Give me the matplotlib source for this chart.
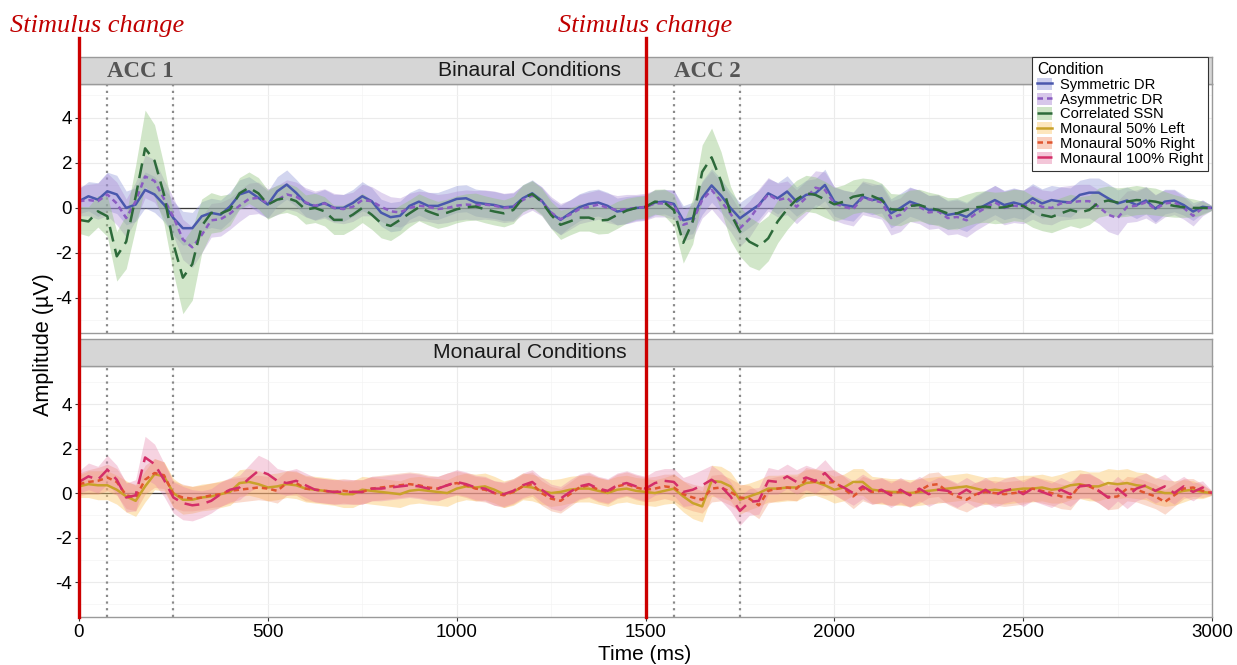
import numpy as np
import matplotlib
matplotlib.use("Agg")
import matplotlib.pyplot as plt
from matplotlib.lines import Line2D
from matplotlib.patches import Patch
from matplotlib.transforms import blended_transform_factory
from matplotlib.ticker import MultipleLocator

plt.rcParams['font.family'] = ['Liberation Sans', 'DejaVu Sans']
plt.rcParams['axes.unicode_minus'] = False

# ---------------- data ----------------
time_ms = np.arange(0, 3001, 25)

symmetric_dr = [
    0.3, 0.52, 0.37, 0.74, 0.6, 0.0, 0.15, 0.8, 0.6, 0.15,
    -0.45, -0.9, -0.9, -0.37, -0.22, -0.3, 0.07, 0.6, 0.74, 0.45,
    0.15, 0.74, 1.04, 0.67, 0.22, 0.07, 0.22, 0.0, 0.0, 0.22,
    0.52, 0.3, -0.21, -0.41, -0.35, 0.09, 0.28, 0.09, 0.09, 0.24,
    0.4, 0.43, 0.24, 0.18, 0.13, 0.03, 0.06, 0.43, 0.65, 0.33,
    -0.24, -0.53, -0.24, 0.03, 0.18, 0.24, 0.09, -0.16, -0.09, 0.0,
    0.03, 0.24, 0.28, 0.18, -0.55, -0.45, 0.45, 1.0, 0.55, 0.0,
    -0.46, -0.16, 0.13, 0.65, 0.43, 0.73, 0.28, 0.58, 0.65, 1.02,
    0.28, 0.13, 0.06, 0.5, 0.35, 0.43, -0.24, 0.0, 0.28, 0.13,
    -0.09, -0.09, -0.31, -0.24, -0.4, -0.09, 0.13, 0.35, 0.13, 0.24,
    0.13, 0.43, 0.2, 0.35, 0.28, 0.24, 0.58, 0.68, 0.68, 0.43,
    0.2, 0.33, 0.13, 0.33, -0.03, 0.28, 0.33, 0.13, -0.16, 0.05,
    0.0]
asymmetric_dr = [
    0.3, 0.35, 0.3, 0.6, 0.2, -0.45, 0.3, 1.4, 1.2, 0.4,
    -0.4, -1.4, -1.75, -1.2, -0.55, -0.5, -0.25, 0.1, 0.4, 0.45,
    0.2, 0.35, 0.6, 0.5, 0.25, 0.1, 0.2, 0.0, -0.05, 0.05,
    0.35, 0.3, 0.05, -0.15, -0.2, 0.0, 0.1, 0.05, -0.05, 0.0,
    0.1, 0.15, 0.12, 0.15, 0.1, 0.0, 0.05, 0.35, 0.55, 0.3,
    -0.2, -0.5, -0.3, -0.05, 0.05, 0.15, 0.0, -0.1, -0.05, 0.0,
    0.05, 0.2, 0.2, 0.15, -0.75, -0.6, 0.35, 0.8, 0.3, -0.25,
    -0.9, -0.5, 0.1, 0.6, 0.35, 0.45, 0.05, 0.45, 0.9, 0.8,
    0.2, 0.05, -0.05, 0.45, 0.35, 0.25, -0.45, -0.3, 0.15, 0.05,
    -0.2, -0.15, -0.45, -0.4, -0.55, -0.25, 0.0, 0.25, 0.0, 0.1,
    0.05, 0.25, 0.05, 0.0, 0.2, 0.25, 0.3, 0.3, 0.05, -0.3,
    -0.45, 0.05, 0.1, 0.25, -0.05, 0.2, 0.25, 0.0, -0.35, 0.0,
    0.0]
correlated_ssn = [
    -0.53, -0.6, -0.15, -0.37, -2.15, -1.5, 0.5, 2.65, 2.1, 0.6,
    -1.6, -3.1, -2.5, -0.8, -0.22, -0.25, -0.07, 0.65, 0.9, 0.65,
    0.15, 0.37, 0.45, 0.3, -0.07, 0.0, -0.15, -0.53, -0.53, -0.3,
    0.0, -0.3, -0.68, -0.8, -0.53, -0.24, 0.03, -0.16, -0.31, -0.21,
    -0.06, 0.03, 0.06, -0.06, -0.16, -0.24, -0.09, 0.43, 0.62, 0.28,
    -0.31, -0.75, -0.6, -0.43, -0.43, -0.56, -0.53, -0.31, -0.12, 0.0,
    0.05, 0.28, 0.24, -0.09, -1.55, -0.6, 1.6, 2.25, 1.2, -0.24,
    -1.05, -1.5, -1.72, -1.35, -0.6, -0.06, 0.38, 0.65, 0.58, 0.38,
    0.16, 0.28, 0.5, 0.58, 0.53, 0.35, -0.06, -0.09, 0.09, 0.13,
    0.0, -0.09, -0.24, -0.24, -0.09, 0.03, 0.06, 0.0, 0.03, 0.13,
    0.09, -0.16, -0.31, -0.4, -0.24, -0.09, -0.2, -0.09, 0.24, 0.33,
    0.24, 0.28, 0.35, 0.33, 0.28, 0.18, 0.09, 0.03, 0.0, 0.0,
    0.0]
monaural_50_left = [
    0.3, 0.4, 0.35, 0.35, 0.15, -0.15, -0.35, 0.3, 0.85, 0.75,
    0.0, -0.3, -0.3, -0.2, -0.15, -0.05, 0.05, 0.45, 0.5, 0.4,
    0.25, 0.3, 0.4, 0.35, 0.2, 0.15, 0.1, 0.05, -0.05, -0.05,
    0.15, 0.1, 0.05, 0.0, -0.05, 0.1, 0.15, 0.1, 0.05, 0.0,
    0.2, 0.3, 0.25, 0.3, 0.15, -0.05, 0.05, 0.3, 0.25, 0.1,
    0.0, 0.05, 0.15, 0.2, 0.2, 0.1, 0.0, 0.15, 0.2, 0.1,
    0.05, 0.0, 0.1, 0.2, -0.15, -0.45, -0.6, 0.55, 0.5, 0.3,
    -0.3, -0.15, 0.0, 0.2, 0.2, 0.25, 0.25, 0.45, 0.5, 0.35,
    0.15, 0.25, 0.5, 0.5, 0.15, 0.1, 0.05, 0.05, 0.0, 0.05,
    0.1, 0.15, 0.2, 0.25, 0.3, 0.2, 0.1, 0.15, 0.1, 0.15,
    0.2, 0.2, 0.25, 0.15, 0.2, 0.35, 0.4, 0.3, 0.3, 0.45,
    0.4, 0.45, 0.35, 0.3, 0.1, 0.0, 0.0, 0.1, 0.15, 0.05,
    0.0]
monaural_50_right = [
    0.4, 0.5, 0.55, 0.7, 0.5, -0.1, -0.2, 0.6, 0.9, 0.8,
    -0.05, -0.2, -0.25, -0.2, -0.1, -0.05, 0.1, 0.15, 0.2, 0.25,
    0.2, 0.1, 0.45, 0.45, 0.2, 0.15, 0.1, 0.05, 0.1, 0.05,
    0.05, 0.2, 0.25, 0.3, 0.35, 0.4, 0.35, 0.25, 0.2, 0.35,
    0.45, 0.35, 0.2, 0.15, 0.0, -0.1, 0.05, 0.3, 0.4, 0.0,
    -0.25, -0.35, -0.05, 0.25, 0.35, 0.15, 0.05, 0.3, 0.4, 0.25,
    0.15, 0.2, 0.3, 0.25, -0.05, -0.2, -0.3, 0.2, 0.25, 0.05,
    -0.2, -0.25, -0.55, 0.1, 0.2, 0.25, 0.2, 0.6, 0.5, 0.45,
    0.5, 0.2, -0.15, 0.2, 0.05, 0.1, 0.0, 0.05, -0.05, 0.1,
    0.35, 0.4, 0.05, -0.15, -0.3, -0.05, 0.05, 0.0, -0.05, 0.0,
    0.05, 0.2, 0.1, 0.0, -0.15, -0.2, 0.35, 0.3, 0.1, -0.2,
    -0.15, 0.2, 0.15, 0.0, -0.15, -0.4, -0.1, 0.2, 0.25, 0.1,
    0.0]
monaural_100_right = [
    0.5, 0.75, 0.6, 1.05, 0.6, -0.2, -0.1, 1.6, 1.3, 0.6,
    -0.2, -0.45, -0.55, -0.5, -0.35, -0.05, 0.15, 0.25, 0.65, 1.0,
    0.85, 0.55, 0.45, 0.55, 0.35, 0.15, 0.1, 0.05, 0.05, 0.05,
    0.05, 0.2, 0.2, 0.25, 0.3, 0.35, 0.3, 0.2, 0.2, 0.35,
    0.5, 0.4, 0.25, 0.2, 0.0, -0.05, 0.1, 0.35, 0.5, 0.15,
    -0.15, -0.25, 0.05, 0.3, 0.4, 0.2, 0.1, 0.35, 0.45, 0.3,
    0.2, 0.45, 0.55, 0.5, 0.05, 0.15, 0.35, 0.6, 0.3, -0.15,
    -0.8, -0.4, -0.35, 0.55, 0.5, 0.75, 0.5, 0.7, 0.55, 0.9,
    0.45, 0.25, 0.0, 0.3, 0.05, 0.15, -0.1, 0.15, -0.1, 0.2,
    -0.05, 0.15, 0.1, -0.1, 0.15, -0.1, 0.15, -0.1, 0.1, 0.2,
    -0.05, 0.2, 0.05, -0.1, 0.15, -0.05, 0.3, 0.35, 0.1, -0.2,
    0.2, -0.15, 0.2, 0.35, 0.1, 0.3, 0.0, 0.3, 0.05, 0.25,
    0.0]

# half-widths of the confidence ribbons
symmetric_dr_ci = [
    0.55, 0.65, 0.75, 0.85, 0.85, 0.75, 0.75, 0.8, 0.8, 0.75,
    0.75, 0.75, 0.7, 0.65, 0.65, 0.65, 0.65, 0.65, 0.65, 0.65,
    0.6, 0.65, 0.65, 0.6, 0.6, 0.6, 0.6, 0.6, 0.6, 0.6,
    0.65, 0.6, 0.6, 0.65, 0.65, 0.6, 0.6, 0.6, 0.6, 0.6,
    0.6, 0.6, 0.6, 0.6, 0.6, 0.6, 0.6, 0.6, 0.6, 0.6,
    0.65, 0.65, 0.6, 0.6, 0.6, 0.6, 0.6, 0.6, 0.6, 0.55,
    0.55, 0.55, 0.55, 0.6, 0.65, 0.7, 0.75, 0.75, 0.75, 0.7,
    0.7, 0.7, 0.65, 0.65, 0.7, 0.7, 0.65, 0.65, 0.65, 0.7,
    0.65, 0.65, 0.65, 0.65, 0.65, 0.65, 0.65, 0.65, 0.65, 0.65,
    0.65, 0.65, 0.65, 0.65, 0.65, 0.65, 0.65, 0.65, 0.65, 0.65,
    0.65, 0.65, 0.65, 0.65, 0.65, 0.65, 0.65, 0.65, 0.65, 0.65,
    0.6, 0.6, 0.6, 0.6, 0.6, 0.55, 0.5, 0.45, 0.4, 0.3,
    0.1]
asymmetric_dr_ci = [
    0.65, 0.7, 0.8, 0.95, 0.95, 0.85, 0.85, 0.95, 0.95, 0.85,
    0.85, 0.9, 0.9, 0.8, 0.75, 0.75, 0.7, 0.7, 0.7, 0.7,
    0.65, 0.65, 0.65, 0.65, 0.65, 0.65, 0.65, 0.65, 0.65, 0.65,
    0.7, 0.65, 0.65, 0.65, 0.65, 0.65, 0.65, 0.65, 0.65, 0.65,
    0.65, 0.65, 0.65, 0.65, 0.65, 0.65, 0.65, 0.65, 0.65, 0.65,
    0.7, 0.7, 0.65, 0.65, 0.65, 0.65, 0.65, 0.65, 0.65, 0.6,
    0.6, 0.6, 0.6, 0.65, 0.7, 0.75, 0.8, 0.85, 0.85, 0.8,
    0.8, 0.8, 0.75, 0.75, 0.75, 0.75, 0.75, 0.75, 0.75, 0.8,
    0.75, 0.75, 0.75, 0.75, 0.75, 0.75, 0.75, 0.75, 0.75, 0.75,
    0.75, 0.75, 0.75, 0.75, 0.75, 0.75, 0.75, 0.75, 0.75, 0.75,
    0.75, 0.75, 0.75, 0.75, 0.75, 0.75, 0.75, 0.75, 0.75, 0.75,
    0.75, 0.7, 0.7, 0.7, 0.65, 0.6, 0.55, 0.5, 0.45, 0.35,
    0.1]
correlated_ssn_ci = [
    0.6, 0.65, 0.7, 0.9, 1.1, 1.2, 1.4, 1.7, 1.6, 1.3,
    1.3, 1.6, 1.6, 1.2, 0.9, 0.8, 0.7, 0.7, 0.7, 0.7,
    0.65, 0.65, 0.65, 0.65, 0.65, 0.65, 0.65, 0.65, 0.65, 0.65,
    0.65, 0.65, 0.65, 0.65, 0.65, 0.6, 0.6, 0.6, 0.6, 0.6,
    0.6, 0.6, 0.6, 0.6, 0.6, 0.6, 0.6, 0.6, 0.6, 0.6,
    0.6, 0.65, 0.6, 0.6, 0.6, 0.6, 0.6, 0.6, 0.55, 0.5,
    0.5, 0.55, 0.6, 0.7, 0.9, 1.0, 1.2, 1.3, 1.3, 1.2,
    1.1, 1.1, 1.05, 1.0, 0.95, 0.9, 0.85, 0.8, 0.8, 0.8,
    0.75, 0.75, 0.75, 0.75, 0.75, 0.75, 0.7, 0.7, 0.7, 0.7,
    0.7, 0.7, 0.7, 0.7, 0.7, 0.7, 0.7, 0.7, 0.7, 0.7,
    0.7, 0.7, 0.7, 0.7, 0.7, 0.7, 0.7, 0.65, 0.65, 0.65,
    0.65, 0.65, 0.65, 0.6, 0.6, 0.55, 0.5, 0.45, 0.4, 0.3,
    0.1]
monaural_50_left_ci = [
    0.5, 0.6, 0.65, 0.65, 0.65, 0.7, 0.7, 0.7, 0.7, 0.65,
    0.65, 0.65, 0.6, 0.6, 0.6, 0.6, 0.6, 0.6, 0.6, 0.6,
    0.6, 0.6, 0.6, 0.6, 0.6, 0.6, 0.6, 0.6, 0.6, 0.6,
    0.6, 0.6, 0.6, 0.6, 0.6, 0.6, 0.6, 0.6, 0.6, 0.6,
    0.6, 0.6, 0.6, 0.6, 0.6, 0.6, 0.6, 0.6, 0.6, 0.6,
    0.6, 0.6, 0.6, 0.6, 0.6, 0.6, 0.6, 0.6, 0.6, 0.6,
    0.6, 0.6, 0.6, 0.65, 0.7, 0.7, 0.7, 0.7, 0.7, 0.65,
    0.65, 0.6, 0.6, 0.6, 0.6, 0.6, 0.6, 0.6, 0.6, 0.6,
    0.6, 0.6, 0.6, 0.6, 0.6, 0.6, 0.6, 0.6, 0.6, 0.6,
    0.6, 0.6, 0.6, 0.6, 0.6, 0.6, 0.6, 0.6, 0.6, 0.6,
    0.6, 0.6, 0.6, 0.6, 0.65, 0.65, 0.65, 0.65, 0.65, 0.65,
    0.65, 0.65, 0.6, 0.6, 0.6, 0.6, 0.55, 0.5, 0.4, 0.3,
    0.1]
monaural_50_right_ci = [
    0.5, 0.55, 0.6, 0.6, 0.6, 0.6, 0.6, 0.65, 0.65, 0.6,
    0.6, 0.6, 0.55, 0.55, 0.55, 0.55, 0.55, 0.55, 0.55, 0.55,
    0.55, 0.55, 0.55, 0.55, 0.55, 0.55, 0.55, 0.55, 0.55, 0.55,
    0.55, 0.55, 0.55, 0.55, 0.55, 0.55, 0.55, 0.55, 0.55, 0.55,
    0.55, 0.55, 0.55, 0.55, 0.55, 0.55, 0.55, 0.55, 0.55, 0.55,
    0.55, 0.55, 0.55, 0.55, 0.55, 0.55, 0.55, 0.55, 0.55, 0.55,
    0.55, 0.55, 0.55, 0.6, 0.6, 0.6, 0.6, 0.6, 0.6, 0.6,
    0.6, 0.6, 0.6, 0.55, 0.55, 0.55, 0.55, 0.55, 0.55, 0.55,
    0.55, 0.55, 0.55, 0.55, 0.55, 0.55, 0.55, 0.55, 0.55, 0.55,
    0.55, 0.55, 0.55, 0.55, 0.55, 0.55, 0.55, 0.55, 0.55, 0.55,
    0.55, 0.55, 0.55, 0.55, 0.55, 0.55, 0.55, 0.55, 0.55, 0.55,
    0.55, 0.55, 0.55, 0.55, 0.55, 0.55, 0.5, 0.45, 0.4, 0.3,
    0.1]
monaural_100_right_ci = [
    0.5, 0.6, 0.6, 0.65, 0.65, 0.65, 0.7, 0.95, 0.9, 0.75,
    0.7, 0.75, 0.7, 0.6, 0.55, 0.55, 0.55, 0.55, 0.6, 0.7,
    0.65, 0.55, 0.55, 0.55, 0.55, 0.55, 0.55, 0.55, 0.55, 0.55,
    0.55, 0.55, 0.55, 0.55, 0.55, 0.55, 0.55, 0.55, 0.55, 0.55,
    0.55, 0.55, 0.55, 0.55, 0.55, 0.55, 0.55, 0.55, 0.55, 0.55,
    0.55, 0.55, 0.55, 0.55, 0.55, 0.55, 0.55, 0.55, 0.55, 0.55,
    0.55, 0.55, 0.55, 0.6, 0.65, 0.7, 0.7, 0.65, 0.65, 0.65,
    0.65, 0.6, 0.6, 0.6, 0.55, 0.55, 0.55, 0.55, 0.55, 0.6,
    0.55, 0.55, 0.55, 0.55, 0.55, 0.55, 0.55, 0.55, 0.55, 0.55,
    0.55, 0.55, 0.55, 0.55, 0.55, 0.55, 0.55, 0.55, 0.55, 0.55,
    0.55, 0.55, 0.55, 0.55, 0.55, 0.55, 0.55, 0.55, 0.55, 0.55,
    0.55, 0.55, 0.55, 0.55, 0.55, 0.55, 0.5, 0.45, 0.4, 0.3,
    0.1]

condition_labels = ["Symmetric DR", "Asymmetric DR", "Correlated SSN",
                    "Monaural 50% Left", "Monaural 50% Right", "Monaural 100% Right"]
panel_titles = ["Binaural Conditions", "Monaural Conditions"]
acc_windows = [(75, 250), (1575, 1750)]
acc_labels = ["ACC 1", "ACC 2"]
stimulus_changes = [0, 1500]
x_ticks = [0, 500, 1000, 1500, 2000, 2500, 3000]
y_ticks = [-4, -2, 0, 2, 4]

# ---------------- styles ----------------
styles = {
    "Symmetric DR": dict(color="#4a58ad", ls="-", band="#8f96d8", balpha=0.40),
    "Asymmetric DR": dict(color="#8b5cc2", ls=(0, (2.2, 1.6)), band="#a884d2", balpha=0.35),
    "Correlated SSN": dict(color="#2d6a3a", ls=(0, (6, 3)), band="#92c47f", balpha=0.42),
    "Monaural 50% Left": dict(color="#c9a22a", ls="-", band="#fbc96e", balpha=0.45),
    "Monaural 50% Right": dict(color="#e0552f", ls=(0, (2.2, 1.6)), band="#f39572", balpha=0.35),
    "Monaural 100% Right": dict(color="#d42e68", ls=(0, (6, 3)), band="#e682aa", balpha=0.35),
}
series = {
    "Symmetric DR": (symmetric_dr, symmetric_dr_ci),
    "Asymmetric DR": (asymmetric_dr, asymmetric_dr_ci),
    "Correlated SSN": (correlated_ssn, correlated_ssn_ci),
    "Monaural 50% Left": (monaural_50_left, monaural_50_left_ci),
    "Monaural 50% Right": (monaural_50_right, monaural_50_right_ci),
    "Monaural 100% Right": (monaural_100_right, monaural_100_right_ci),
}
panel_members = [condition_labels[:3], condition_labels[3:]]

W, H = 1237, 665
fig = plt.figure(figsize=(W / 100, H / 100), dpi=100)

def fx(px):
    return px / W

def fy(py):
    return 1 - py / H

L = fx(79)
Wd = fx(1212) - fx(79)
ax_top = fig.add_axes([L, fy(333), Wd, fy(84) - fy(333)])
st_top = fig.add_axes([L, fy(84), Wd, fy(57) - fy(84)])
ax_bot = fig.add_axes([L, fy(617), Wd, fy(366) - fy(617)])
st_bot = fig.add_axes([L, fy(366), Wd, fy(339) - fy(366)])

ylims = [(-5.56, 5.51), (-5.57, 5.71)]
for i, (ax, st) in enumerate([(ax_top, st_top), (ax_bot, st_bot)]):
    ax.set_xlim(0, 3000)
    ax.set_ylim(*ylims[i])
    ax.set_facecolor("white")
    ax.xaxis.set_minor_locator(MultipleLocator(250))
    ax.yaxis.set_minor_locator(MultipleLocator(1))
    ax.set_xticks(x_ticks)
    ax.set_yticks(y_ticks)
    ax.set_yticklabels([str(v) for v in y_ticks])
    ax.grid(True, which="major", color="#ebebeb", lw=0.8, zorder=0)
    ax.grid(True, which="minor", color="#f4f4f4", lw=0.5, zorder=0)
    ax.set_axisbelow(True)
    ax.tick_params(axis="both", which="major", labelsize=13.5, length=3,
                   color="#333333", pad=2)
    ax.tick_params(axis="both", which="minor", length=0)
    for s in ax.spines.values():
        s.set_color("#9a9a9a")
        s.set_linewidth(1.0)
    if i == 0:
        ax.tick_params(axis="x", labelbottom=False, length=0)
    ax.axhline(0, color="#3a3a3a", lw=0.9, zorder=1)
    for (a, b) in acc_windows:
        for xv in (a, b):
            ax.axvline(xv, color="#8a8a8a", lw=1.6, ls=(0, (1, 2)), zorder=1)
    # ribbons first, then lines
    for name in panel_members[i]:
        vals, ci = series[name]
        v = np.array(vals)
        c = np.array(ci)
        stl = styles[name]
        ax.fill_between(time_ms, v - c, v + c, color=stl["band"],
                        alpha=stl["balpha"], lw=0, zorder=2)
    for name in panel_members[i]:
        vals, ci = series[name]
        stl = styles[name]
        ax.plot(time_ms, vals, color=stl["color"], ls=stl["ls"], lw=1.8,
                zorder=3, solid_joinstyle="round", dash_joinstyle="round")

    # strip
    st.set_xlim(0, 3000)
    st.set_ylim(0, 1)
    st.set_facecolor("#d6d6d6")
    st.set_xticks([])
    st.set_yticks([])
    for s in st.spines.values():
        s.set_color("#9a9a9a")
        s.set_linewidth(1.0)
    st.text(fx(530 - 79) / Wd, 0.5, panel_titles[i], transform=st.transAxes,
            ha="center", va="center", fontsize=15.2, color="#1a1a1a")
    if i == 0:
        for (a, b), lab in zip(acc_windows, acc_labels):
            st.text(a, 0.46, lab, ha="left", va="center", fontsize=16.5,
                    fontweight="bold", family="Liberation Serif", color="#555555")

# red stimulus-change lines spanning the figure
trans = blended_transform_factory(ax_top.transData, fig.transFigure)
for xv in stimulus_changes:
    ln = Line2D([xv, xv], [fy(617), fy(38)], transform=trans, color="#cc0000",
                lw=2.4, clip_on=False, zorder=4)
    fig.add_artist(ln)

fig.text(fx(10), fy(26), "Stimulus change", family="Liberation Serif",
         style="italic", fontsize=19, color="#c00000", ha="left", va="center")
fig.text(fx(558), fy(26), "Stimulus change", family="Liberation Serif",
         style="italic", fontsize=19, color="#c00000", ha="left", va="center")

fig.text(fx(43), fy(345), "Amplitude (\u00b5V)", rotation=90, ha="center",
         va="center", fontsize=15.5)
fig.text(fx(645), fy(654), "Time (ms)", ha="center", va="center", fontsize=15)

# legend
handles = []
for name in condition_labels:
    stl = styles[name]
    handles.append((Patch(facecolor=stl["band"], alpha=0.45, edgecolor="none"),
                    Line2D([], [], color=stl["color"], ls=stl["ls"], lw=1.8)))
leg = fig.legend(handles, condition_labels, loc="upper left",
                 bbox_to_anchor=(fx(1032), fy(57)), borderaxespad=0,
                 title="Condition", fontsize=10.6, title_fontsize=11.3,
                 frameon=True, fancybox=False, edgecolor="#333333",
                 framealpha=1, borderpad=0.35, labelspacing=0.04,
                 handlelength=1.0, handleheight=0.9, handletextpad=0.55,
                 alignment="left")
leg.get_frame().set_linewidth(0.8)
leg.set_zorder(6)

fig.savefig("out.png", dpi=100)
